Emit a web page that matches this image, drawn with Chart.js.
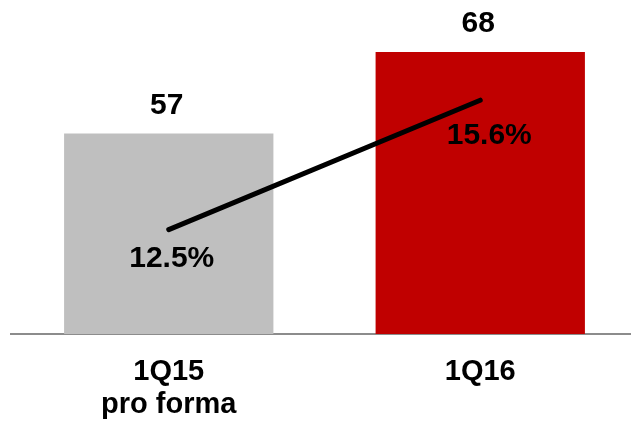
<!DOCTYPE html>
<html>
<head>
<meta charset="utf-8">
<script src="https://cdn.jsdelivr.net/npm/chart.js@4"></script>
<style>
html,body{margin:0;padding:0;background:#fff;overflow:hidden;}
#wrap{width:636px;height:423px;position:relative;}
</style>
</head>
<body>
<div id="wrap"><canvas id="c"></canvas></div>
<script>
const categories = [["1Q15", "pro forma"], "1Q16"];
const barValues = [57, 68];
const marginValues = [12.5, 15.6];
const barColors = ["#BFBFBF", "#C00000"];

const FONT = "'Liberation Sans', Arial, sans-serif";

const labelPlugin = {
  id: 'labels',
  afterDatasetsDraw(chart) {
    const ctx = chart.ctx;
    ctx.save();
    ctx.fillStyle = '#000';
    ctx.textAlign = 'center';
    ctx.textBaseline = 'middle';
    ctx.font = 'bold 30px ' + FONT;
    const barMeta = chart.getDatasetMeta(1);
    barMeta.data.forEach((el, i) => {
      ctx.fillText(String(barValues[i]), el.x - 2, el.y - 28);
    });
    const lineMeta = chart.getDatasetMeta(0);
    const offs = [[3, 29], [9, 36]];
    lineMeta.data.forEach((el, i) => {
      ctx.fillText(marginValues[i].toFixed(1) + '%', el.x + offs[i][0], el.y + offs[i][1]);
    });
    ctx.restore();
  },
  beforeDatasetsDraw(chart) {
    const ctx = chart.ctx;
    const y = chart.chartArea.bottom;
    ctx.save();
    ctx.strokeStyle = '#8C8C8C';
    ctx.lineWidth = 2;
    ctx.beginPath();
    ctx.moveTo(10, y);
    ctx.lineTo(chart.width, y);
    ctx.stroke();
    ctx.restore();
  }
};

new Chart(document.getElementById('c'), {
  data: {
    labels: categories,
    datasets: [
      {
        type: 'line',
        data: marginValues,
        yAxisID: 'y2',
        borderColor: '#000',
        borderWidth: 5,
        borderCapStyle: 'round',
        pointRadius: 0,
        order: 0,
        tension: 0
      },
      {
        type: 'bar',
        data: barValues,
        yAxisID: 'y',
        backgroundColor: barColors,
        barPercentage: 0.672,
        categoryPercentage: 1,
        order: 1
      }
    ]
  },
  options: {
    responsive: true,
    maintainAspectRatio: false,
    animation: false,
    layout: { padding: { left: 13, right: 0, top: 0, bottom: 0 } },
    plugins: { legend: { display: false }, tooltip: { enabled: false } },
    scales: {
      x: {
        grid: { display: false, drawTicks: false },
        border: { display: false },
        ticks: {
          color: '#000',
          font: { family: FONT, size: 29, weight: 'bold', lineHeight: 1.14 },
          padding: 21,
          maxRotation: 0
        },
        afterFit: s => { s.height = 89; }
      },
      y: { display: false, min: 30, max: 75 },
      y2: { display: false, min: 10, max: 18 }
    }
  },
  plugins: [labelPlugin]
});
</script>
</body>
</html>
